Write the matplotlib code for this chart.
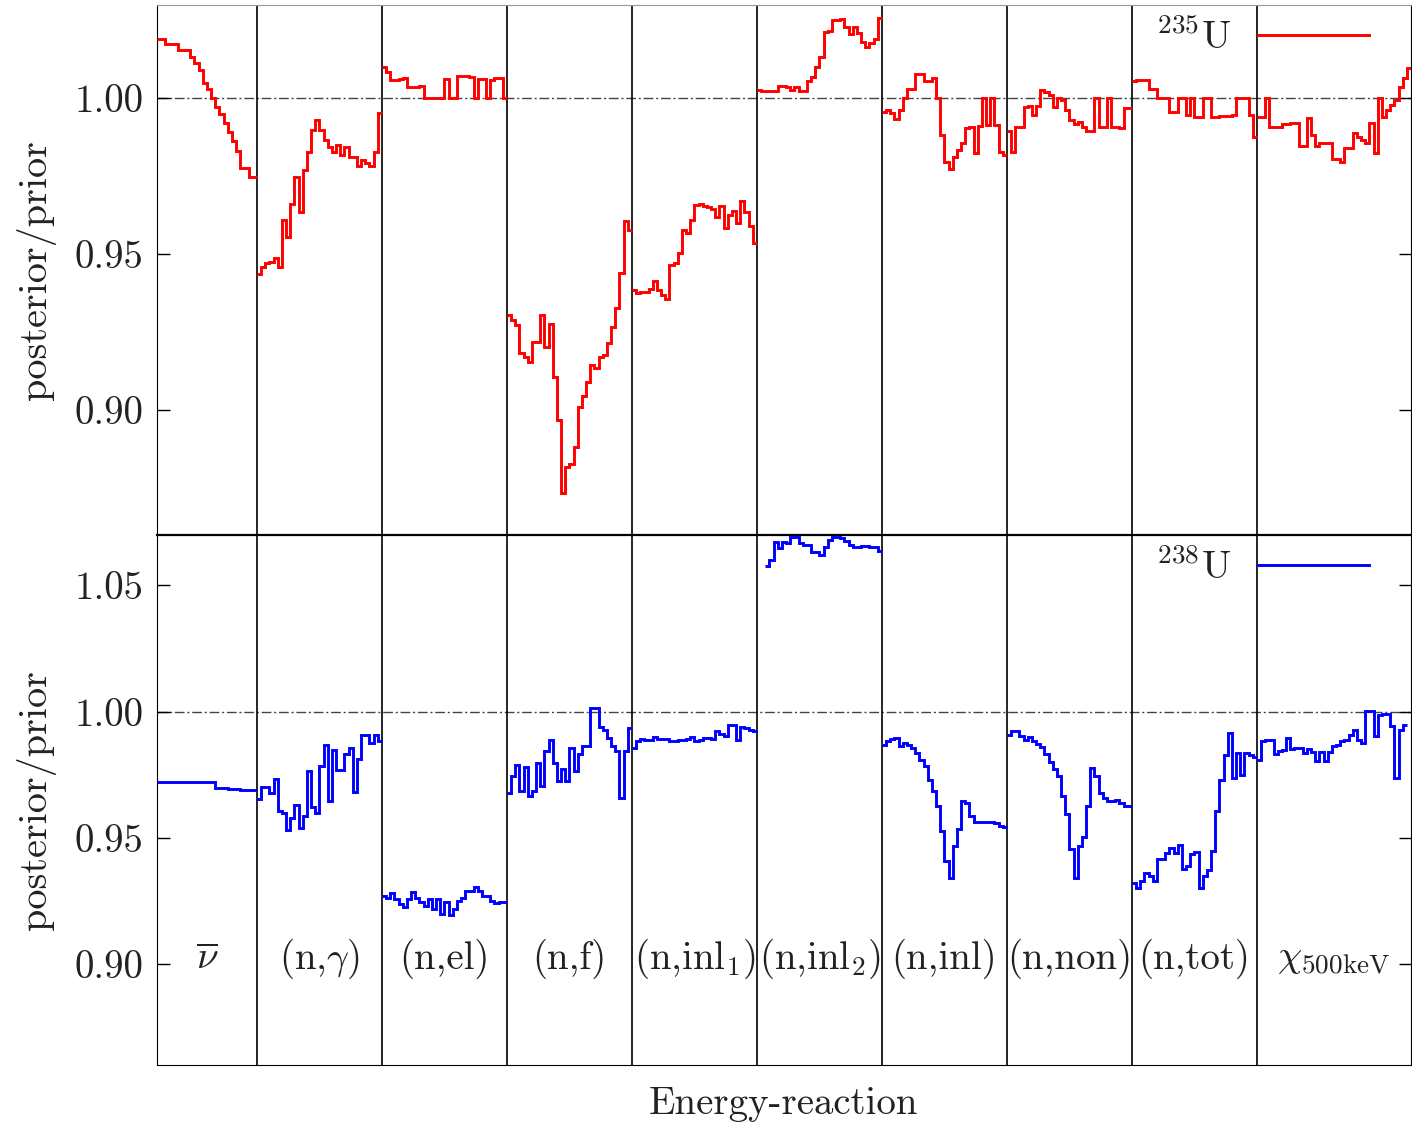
import matplotlib
matplotlib.use("Agg")
import matplotlib.pyplot as plt
import numpy as np

plt.rcParams['font.family'] = 'serif'
plt.rcParams['font.serif'] = ['cmr10', 'DejaVu Serif']
plt.rcParams['mathtext.fontset'] = 'cm'
plt.rcParams['axes.formatter.use_mathtext'] = True

# group labels along the energy-reaction axis
labels = [r'$\overline{\nu}$', r'(n,$\gamma$)', '(n,el)', '(n,f)', r'(n,inl$_1$)',
          r'(n,inl$_2$)', '(n,inl)', '(n,non)', '(n,tot)', r'$\chi_{\rm 500keV}$']

# posterior/prior ratios per group, 235U
u235 = [
    [1.0189, 1.0189, 1.0172, 1.0172, 1.0172, 1.0154, 1.0154, 1.0154, 1.0132, 1.0111, 1.0090, 1.0049,
     1.0028, 0.9999, 0.9972, 0.9948, 0.9921, 0.9890, 0.9862, 0.9831, 0.9775, 0.9775, 0.9748, 0.9748],
    [0.9436, 0.9459, 0.9470, 0.9475, 0.9486, 0.9459, 0.9609, 0.9555, 0.9662, 0.9748, 0.9636, 0.9769,
     0.9828, 0.9897, 0.9929, 0.9897, 0.9865, 0.9844, 0.9828, 0.9849, 0.9817, 0.9844, 0.9812, 0.9812,
     0.9783, 0.9801, 0.9791, 0.9783, 0.9828, 0.9951],
    [1.0100, 1.0084, 1.0058, 1.0058, 1.0060, 1.0063, 1.0034, 1.0034, 1.0036, 1.0038, 1.0000, 1.0000,
     1.0000, 1.0000, 1.0000, 1.0061, 1.0000, 1.0000, 1.0071, 1.0071, 1.0071, 1.0066, 1.0000, 1.0061,
     1.0061, 1.0000, 1.0058, 1.0063, 1.0063, 1.0000],
    [0.9305, 0.9288, 0.9272, 0.9182, 0.9171, 0.9155, 0.9217, 0.9217, 0.9305, 0.9203, 0.9276, 0.9107,
     0.8968, 0.8733, 0.8818, 0.8829, 0.8882, 0.9011, 0.9045, 0.9091, 0.9144, 0.9134, 0.9169, 0.9178,
     0.9214, 0.9265, 0.9326, 0.9440, 0.9607, 0.9577],
    [0.9385, 0.9374, 0.9377, 0.9379, 0.9388, 0.9414, 0.9385, 0.9369, 0.9356, 0.9465, 0.9472, 0.9502,
     0.9577, 0.9568, 0.9609, 0.9657, 0.9662, 0.9654, 0.9652, 0.9646, 0.9620, 0.9654, 0.9582, 0.9625,
     0.9638, 0.9598, 0.9671, 0.9636, 0.9591, 0.9534],
    [1.0026, 1.0022, 1.0022, 1.0022, 1.0022, 1.0039, 1.0039, 1.0034, 1.0026, 1.0036, 1.0022, 1.0022,
     1.0054, 1.0068, 1.0100, 1.0132, 1.0213, 1.0216, 1.0250, 1.0250, 1.0253, 1.0229, 1.0204, 1.0229,
     1.0207, 1.0180, 1.0164, 1.0175, 1.0189, 1.0255],
    [0.9956, 0.9962, 0.9951, 0.9932, 0.9962, 1.0001, 1.0028, 1.0028, 1.0077, 1.0077, 1.0054, 1.0054,
     1.0063, 0.9999, 0.9881, 0.9796, 0.9771, 0.9812, 0.9833, 0.9855, 0.9903, 0.9908, 0.9823, 0.9910,
     1.0000, 0.9913, 1.0000, 0.9913, 0.9828, 0.9817],
    [0.9895, 0.9828, 0.9908, 0.9908, 0.9970, 0.9974, 0.9946, 0.9974, 1.0026, 1.0020, 1.0010, 0.9972,
     1.0000, 0.9994, 0.9962, 0.9929, 0.9917, 0.9924, 0.9908, 0.9895, 0.9895, 1.0000, 0.9908, 0.9908,
     1.0000, 0.9908, 0.9908, 0.9905, 0.9967, 0.9967],
    [1.0056, 1.0058, 1.0058, 1.0058, 1.0028, 1.0028, 1.0000, 1.0000, 1.0000, 0.9956, 0.9956, 1.0000,
     1.0000, 0.9946, 1.0000, 0.9938, 0.9938, 1.0000, 1.0000, 0.9938, 0.9938, 0.9942, 0.9942, 0.9942,
     0.9946, 1.0000, 1.0000, 1.0000, 0.9946, 0.9876],
    [0.9938, 0.9938, 1.0000, 0.9908, 0.9908, 0.9908, 0.9917, 0.9917, 0.9919, 0.9921, 0.9846, 0.9846,
     0.9935, 0.9881, 0.9846, 0.9855, 0.9855, 0.9857, 0.9804, 0.9804, 0.9796, 0.9839, 0.9839, 0.9887,
     0.9874, 0.9865, 0.9855, 0.9921, 0.9823, 1.0000, 0.9940, 0.9962, 0.9978, 0.9994, 1.0036, 1.0063,
     1.0095],
]

# posterior/prior ratios per group, 238U
u238 = [
    [0.9721, 0.9721, 0.9721, 0.9721, 0.9721, 0.9721, 0.9721, 0.9721, 0.9721, 0.9721, 0.9721, 0.9721,
     0.9721, 0.9721, 0.9698, 0.9698, 0.9698, 0.9694, 0.9694, 0.9694, 0.9688, 0.9688, 0.9688, 0.9688],
    [0.9652, 0.9702, 0.9702, 0.9679, 0.9734, 0.9606, 0.9597, 0.9530, 0.9580, 0.9632, 0.9540, 0.9586,
     0.9764, 0.9623, 0.9599, 0.9784, 0.9866, 0.9645, 0.9847, 0.9768, 0.9768, 0.9834, 0.9856, 0.9681,
     0.9813, 0.9909, 0.9909, 0.9876, 0.9909, 0.9883],
    [0.9270, 0.9260, 0.9283, 0.9257, 0.9237, 0.9228, 0.9257, 0.9286, 0.9263, 0.9244, 0.9231, 0.9257,
     0.9217, 0.9257, 0.9198, 0.9244, 0.9194, 0.9217, 0.9250, 0.9263, 0.9290, 0.9290, 0.9307, 0.9290,
     0.9270, 0.9270, 0.9250, 0.9241, 0.9246, 0.9246],
    [0.9679, 0.9744, 0.9787, 0.9685, 0.9781, 0.9665, 0.9685, 0.9797, 0.9705, 0.9843, 0.9889, 0.9797,
     0.9725, 0.9771, 0.9725, 0.9856, 0.9764, 0.9834, 0.9863, 0.9863, 1.0015, 1.0015, 0.9940, 0.9929,
     0.9896, 0.9863, 0.9843, 0.9659, 0.9843, 0.9936],
    [0.9856, 0.9883, 0.9892, 0.9887, 0.9889, 0.9900, 0.9892, 0.9892, 0.9892, 0.9883, 0.9883, 0.9889,
     0.9889, 0.9892, 0.9900, 0.9883, 0.9889, 0.9896, 0.9896, 0.9892, 0.9922, 0.9913, 0.9902, 0.9949,
     0.9949, 0.9887, 0.9940, 0.9936, 0.9929, 0.9922],
    [np.nan, np.nan, 1.0578, 1.0601, 1.0673, 1.0647, 1.0673, 1.0667, 1.0693, 1.0693, 1.0667, 1.0660,
     1.0660, 1.0634, 1.0634, 1.0621, 1.0653, 1.0680, 1.0691, 1.0691, 1.0687, 1.0677, 1.0660, 1.0653,
     1.0653, 1.0656, 1.0656, 1.0651, 1.0651, 1.0638],
    [0.9866, 0.9883, 0.9892, 0.9896, 0.9863, 0.9876, 0.9867, 0.9856, 0.9837, 0.9810, 0.9784, 0.9731,
     0.9685, 0.9626, 0.9527, 0.9408, 0.9340, 0.9468, 0.9534, 0.9645, 0.9639, 0.9586, 0.9562, 0.9562,
     0.9562, 0.9562, 0.9562, 0.9557, 0.9546, 0.9543],
    [0.9909, 0.9922, 0.9922, 0.9903, 0.9887, 0.9900, 0.9883, 0.9871, 0.9860, 0.9834, 0.9800, 0.9774,
     0.9747, 0.9665, 0.9593, 0.9455, 0.9340, 0.9468, 0.9505, 0.9628, 0.9777, 0.9744, 0.9679, 0.9659,
     0.9645, 0.9645, 0.9649, 0.9639, 0.9628, 0.9628],
    [0.9320, 0.9303, 0.9329, 0.9362, 0.9349, 0.9329, 0.9415, 0.9415, 0.9441, 0.9461, 0.9439, 0.9471,
     0.9375, 0.9388, 0.9435, 0.9444, 0.9303, 0.9349, 0.9373, 0.9448, 0.9606, 0.9731, 0.9830, 0.9916,
     0.9738, 0.9837, 0.9751, 0.9837, 0.9830, 0.9821],
    [0.9810, 0.9883, 0.9887, 0.9887, 0.9834, 0.9843, 0.9850, 0.9896, 0.9853, 0.9856, 0.9856, 0.9837,
     0.9853, 0.9839, 0.9804, 0.9839, 0.9804, 0.9839, 0.9863, 0.9866, 0.9883, 0.9889, 0.9909, 0.9929,
     0.9889, 0.9876, 1.0001, 1.0001, 0.9905, 0.9988, 0.9991, 0.9991, 0.9942, 0.9738, 0.9929, 0.9949,
     np.nan],
]

nbins = [len(g) for g in u235]
bounds = np.concatenate([[0], np.cumsum(nbins)])

FS = 28
fig = plt.figure(figsize=(14.12, 11.23), dpi=100)
ax1 = fig.add_axes([157 / 1412, 1 - 535 / 1123, 1254 / 1412, 530 / 1123])
ax2 = fig.add_axes([157 / 1412, 1 - 1065 / 1123, 1254 / 1412, 530 / 1123])


def draw(ax, data, color, name):
    for i, vals in enumerate(data):
        v = np.array(vals, dtype=float)
        edges = np.arange(bounds[i], bounds[i + 1] + 1)
        ok = np.where(np.isfinite(v))[0]
        lo, hi = ok[0], ok[-1] + 1
        ax.stairs(v[lo:hi], edges[lo:hi + 1], baseline=None, color=color, lw=2.1,
                  label=name if i == 0 else None, zorder=3)
    for b in bounds[1:-1]:
        ax.axvline(b, color='black', lw=1.2, zorder=2)
    ax.axhline(1.0, color='#444444', lw=1.0, ls=(0, (7, 2, 1.5, 2)), zorder=1)
    ax.set_xlim(bounds[0], bounds[-1])
    ax.set_xticks([])
    ax.tick_params(axis='y', direction='in', length=9, width=1, right=True,
                   labelsize=FS, pad=10, labelcolor='#222222')
    ax.set_ylabel('posterior/prior', fontsize=FS + 1, labelpad=13, color='#222222')
    leg = ax.legend(loc='upper right', bbox_to_anchor=(0.982, 1.012), frameon=False,
                    markerfirst=False, handlelength=2.85, handletextpad=0.7,
                    borderaxespad=0.1, fontsize=FS)
    for t in leg.get_texts():
        t.set_color('#222222')


draw(ax1, u235, '#ff0000', r'$^{235}$U')
ax1.set_ylim(0.860, 1.0298)
ax1.set_yticks([0.90, 0.95, 1.00])
ax1.set_yticklabels(['0.90', '0.95', '1.00'])
ax1.spines['top'].set_color('#999999')

draw(ax2, u238, '#0000ff', r'$^{238}$U')
ax2.set_ylim(0.860, 1.070)
ax2.set_yticks([0.90, 0.95, 1.00, 1.05])
ax2.set_yticklabels(['0.90', '0.95', '1.00', '1.05'])
ax2.spines['top'].set_linewidth(1.6)
ax2.set_xlabel('Energy-reaction', fontsize=FS, labelpad=15, color='#222222')

for i, lab in enumerate(labels):
    ax2.text((bounds[i] + bounds[i + 1]) / 2, 0.902, lab, ha='center', va='center',
             fontsize=FS, color='#222222', zorder=4)

fig.savefig('out.png', dpi=100)
